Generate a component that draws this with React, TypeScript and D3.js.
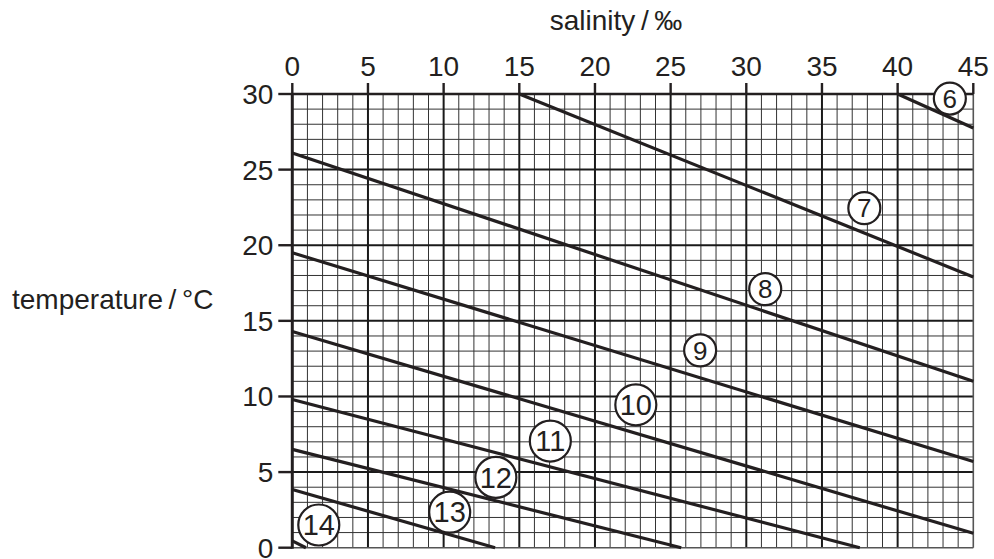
import React from 'react';
import * as d3 from 'd3';

// isoline values and their end points (salinity ‰, temperature °C)
const isoValues = [6, 7, 8, 9, 10, 11, 12, 13, 14];
const lineStarts: [number, number][] = [
  [40, 30], [15, 30], [0, 26.1], [0, 19.5], [0, 14.3], [0, 9.8], [0, 6.5], [0, 3.85], [0, 0.45],
];
const lineEnds: [number, number][] = [
  [45, 27.75], [45, 17.9], [45, 11], [45, 5.7], [45, 0.95], [37.5, 0], [25.7, 0], [13.4, 0], [0.9, 0],
];
const labelPositions: [number, number][] = [
  [43.45, 29.7], [37.8, 22.45], [31.25, 17.1], [26.95, 13.05], [22.7, 9.45],
  [17.05, 7.05], [13.45, 4.65], [10.4, 2.35], [1.75, 1.5],
];
const salinityTicks = [0, 5, 10, 15, 20, 25, 30, 35, 40, 45];
const temperatureTicks = [0, 5, 10, 15, 20, 25, 30];

const FONT = '"Liberation Sans", Arial, Helvetica, sans-serif';
const INK = '#231f20';

const App: React.FC = () => {
  const x = d3.scaleLinear().domain([0, 45]).range([292.3, 973.3]);
  const y = d3.scaleLinear().domain([0, 30]).range([547.7, 94]);

  const minorX = d3.range(0, 46).filter(v => v % 5 !== 0);
  const minorY = d3.range(0, 31).filter(v => v % 5 !== 0);
  const majorX = d3.range(5, 45, 5);
  const majorY = d3.range(5, 30, 5);

  const line = d3.line<[number, number]>().x(d => x(d[0])).y(d => y(d[1]));

  return (
    <svg
      width={994}
      height={559}
      style={{ position: 'absolute', left: 0, top: 0, background: '#fff' }}
      fontFamily={FONT}
    >
      {/* minor grid */}
      <g stroke="#333" strokeWidth={1}>
        {minorX.map(v => (
          <line key={'mx' + v} x1={x(v)} x2={x(v)} y1={y(0)} y2={y(30)} />
        ))}
        {minorY.map(v => (
          <line key={'my' + v} x1={x(0)} x2={x(45)} y1={y(v)} y2={y(v)} />
        ))}
      </g>
      {/* major grid */}
      <g stroke="#1a1a1a" strokeWidth={2}>
        {majorX.map(v => (
          <line key={'Mx' + v} x1={x(v)} x2={x(v)} y1={y(0)} y2={y(30)} />
        ))}
        {majorY.map(v => (
          <line key={'My' + v} x1={x(0)} x2={x(45)} y1={y(v)} y2={y(v)} />
        ))}
      </g>
      {/* frame */}
      <line x1={x(45)} x2={x(45)} y1={y(0)} y2={y(30)} stroke="#555" strokeWidth={1.6} />
      <line x1={x(0)} x2={x(45)} y1={y(0)} y2={y(0)} stroke="#555" strokeWidth={1.6} />
      <line x1={x(0)} x2={x(45)} y1={y(30)} y2={y(30)} stroke={INK} strokeWidth={2.6} />
      <line x1={x(0)} x2={x(0)} y1={y(0) + 1} y2={y(30) - 1} stroke={INK} strokeWidth={3} />

      {/* top axis */}
      {salinityTicks.map(v => (
        <g key={'tx' + v}>
          <line x1={x(v)} x2={x(v)} y1={y(30)} y2={y(30) - 11} stroke={INK} strokeWidth={2.4} />
          <text x={x(v)} y={76} textAnchor="middle" fontSize={28} fill={INK}>{v}</text>
        </g>
      ))}
      {/* left axis */}
      {temperatureTicks.map(v => (
        <g key={'ty' + v}>
          <line x1={x(0) - 14} x2={x(0)} y1={y(v)} y2={y(v)} stroke={INK} strokeWidth={2.4} />
          <text x={x(0) - 19} y={y(v) + 10} textAnchor="end" fontSize={28} fill={INK}>{v}</text>
        </g>
      ))}

      <text x={616} y={30} textAnchor="middle" fontSize={28} fill={INK}>salinity{'\u2009/\u2009'}‰</text>
      <text x={12} y={309} fontSize={28} fill={INK}>temperature{'\u2009/\u2009'}°C</text>

      {/* isolines */}
      <g fill="none" stroke={INK} strokeWidth={3.2}>
        {isoValues.map((v, i) => (
          <path key={'l' + v} d={line([lineStarts[i], lineEnds[i]]) || ''} />
        ))}
      </g>

      {/* circled labels */}
      {isoValues.map((v, i) => {
        const [sx, ty] = labelPositions[i];
        const big = v >= 10;
        return (
          <g key={'c' + v} transform={`translate(${x(sx)},${y(ty)})`}>
            <circle r={big ? 20.5 : 16} fill="#fff" stroke={INK} strokeWidth={2.2} />
            <text y={big ? 10.3 : 9.2} textAnchor="middle" fontSize={big ? 29 : 26} fill={INK}>
              {v}
            </text>
          </g>
        );
      })}
    </svg>
  );
};

export default App;
